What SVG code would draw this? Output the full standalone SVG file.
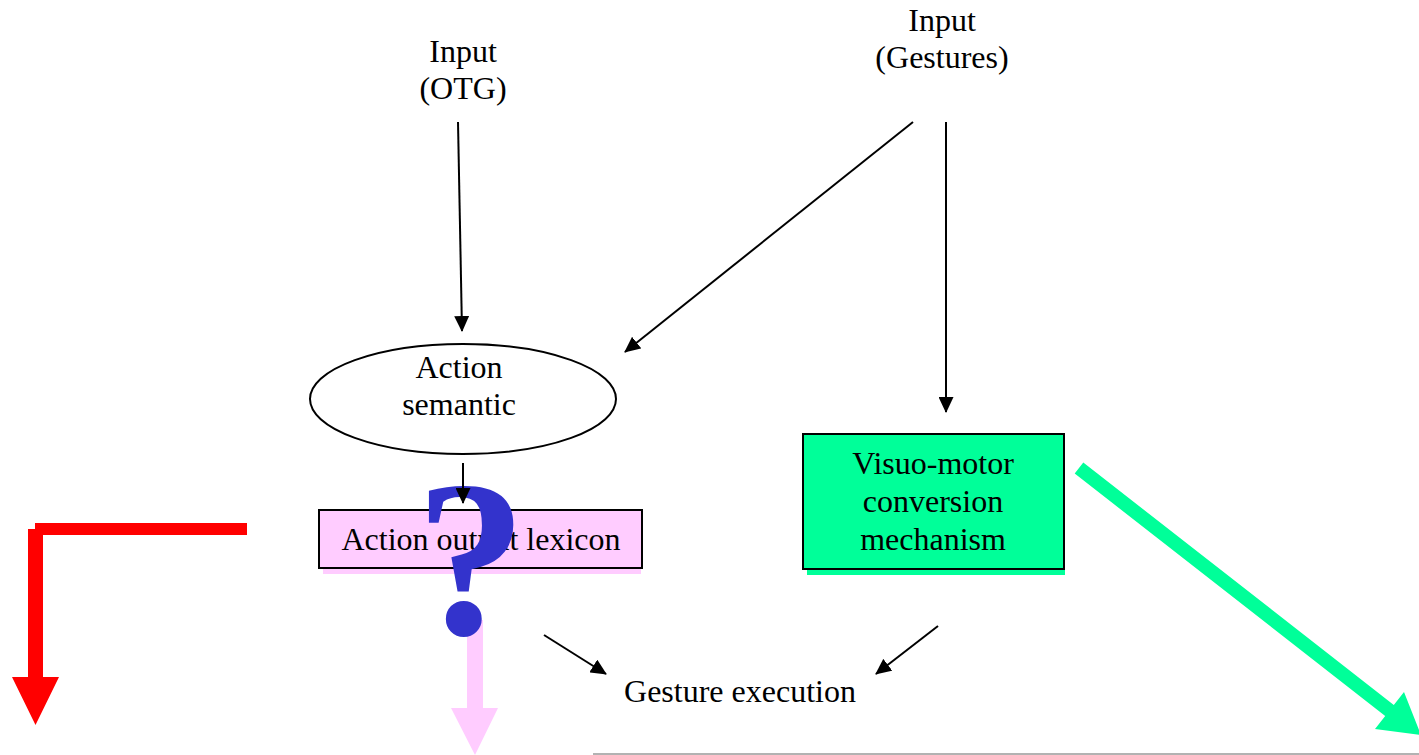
<svg xmlns="http://www.w3.org/2000/svg" width="1419" height="755" viewBox="0 0 1419 755">
<style>
.t{font-family:"Liberation Serif","Times New Roman",serif;font-size:32px;fill:#000;text-anchor:middle}
.c{stroke:#000;stroke-width:2;fill:none;marker-end:url(#ah)}
</style>
<defs>
<marker id="ah" markerUnits="userSpaceOnUse" markerWidth="16" markerHeight="15" refX="15" refY="7.5" orient="auto">
<path d="M0,0 L16,7.5 L0,15 z" fill="#000"/>
</marker>
</defs>
<rect width="1419" height="755" fill="#fff"/>
<line x1="593" y1="754" x2="1419" y2="754" stroke="#999" stroke-width="1.5"/>
<g id="input-otg">
<text class="t" x="463" y="62">Input</text>
<text class="t" x="463" y="99">(OTG)</text>
</g>
<g id="input-gestures">
<text class="t" x="942" y="31">Input</text>
<text class="t" x="942" y="68">(Gestures)</text>
</g>
<g id="action-semantic">
<ellipse cx="463" cy="399" rx="153" ry="55" fill="#fff" stroke="#000" stroke-width="2"/>
<text class="t" x="459" y="378">Action</text>
<text class="t" x="459" y="415">semantic</text>
</g>
<g id="action-output-lexicon">
<rect x="323" y="514" width="318" height="60" fill="#FFCCFF"/>
<rect x="319" y="510" width="323" height="58" fill="#FFCCFF" stroke="#000" stroke-width="2"/>
<text class="t" x="481" y="550">Action output lexicon</text>
</g>
<g id="visuo-motor">
<rect x="807" y="437" width="258" height="138" fill="#00FF99"/>
<rect x="803" y="434" width="261" height="135" fill="#00FF99" stroke="#000" stroke-width="2"/>
<text class="t" x="933" y="474">Visuo-motor</text>
<text class="t" x="933" y="512">conversion</text>
<text class="t" x="933" y="550">mechanism</text>
</g>
<g id="gesture-execution">
<text class="t" x="740" y="702">Gesture execution</text>
</g>
<g id="big-arrows">
<polygon points="35,523 247,523 247,535 43,535 43,677 59,677 35.5,725 12,677 28,677 28,529 35,529" fill="#FF0000"/>
<polygon points="467,620 483,620 483,708 498,708 475,755 451,708 467,708" fill="#FFCCFF"/>
<polygon points="1083.3,462.5 1393.8,705 1404,692 1421,735 1375,729 1385.2,716 1074.7,473.5" fill="#00FF99"/>
</g>
<g id="question">
<text x="471" y="634" font-family="Liberation Serif, Times New Roman, serif" font-size="222" font-weight="bold" fill="#3333CC" text-anchor="middle">?</text>
</g>
<g id="connectors">
<line class="c" x1="458" y1="122" x2="462" y2="331"/>
<line class="c" x1="913" y1="122" x2="625" y2="352"/>
<line class="c" x1="946" y1="122" x2="946" y2="412"/>
<line class="c" x1="463" y1="463" x2="463" y2="503"/>
<line class="c" x1="544" y1="635" x2="606" y2="674"/>
<line class="c" x1="938" y1="626" x2="876" y2="674"/>
</g>
</svg>
